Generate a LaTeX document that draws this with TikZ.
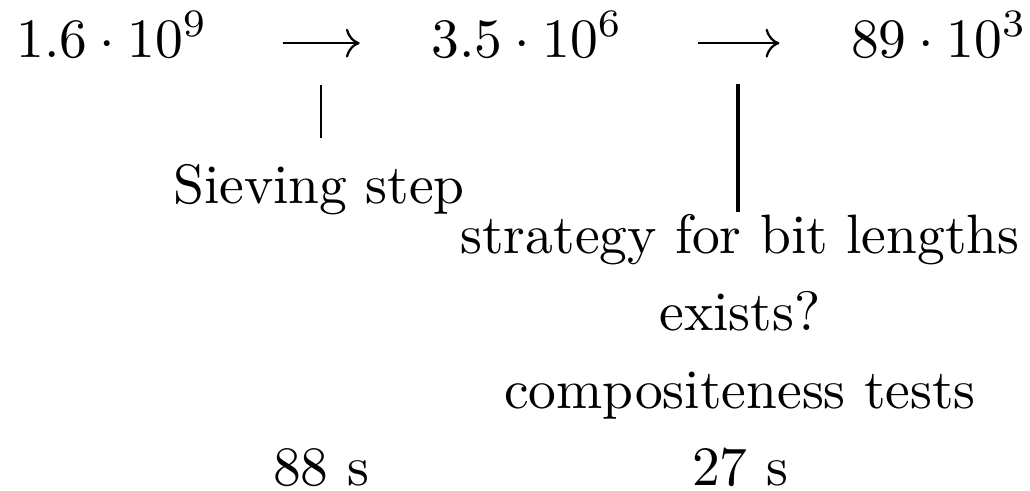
\documentclass[tikz,border=0pt]{standalone}
\usepackage{amsmath}
\usepackage{tikz}
\usetikzlibrary{arrows.meta}

\begin{document}
\begin{tikzpicture}[
  x=0.18018pt, y=-0.18018pt,
  num/.style={anchor=base, inner sep=0pt},
  lbl/.style={anchor=base},
  arr/.style={-{To}, shorten <=13.3pt, shorten >=12.7pt},
  stem/.style={line width=0.4pt}
]
  \useasboundingbox (0,0) rectangle (1030,490);

  % counts after each stage
  \node[num] (n1) at (112,57) {$1.6\cdot10^9$};
  \node[num] (n2) at (527,57) {$3.5\cdot10^6$};
  \node[num] (n3) at (939,57) {$89\cdot10^3$};

  \draw[arr] ([yshift=2.5pt]n1.base east) -- ([yshift=2.5pt]n2.base west);
  \draw[arr] ([yshift=2.5pt]n2.base east) -- ([yshift=2.5pt]n3.base west);

  % stage labels
  \node[lbl] (sieve) at (319,203) {Sieving step};
  \node[lbl] (strat) at (740,253) {strategy for bit lengths};
  \node[lbl] (exist) at (740,330.5) {exists?};
  \node[lbl] (comp)  at (740,408) {compositeness tests};

  \node[lbl] (t1) at (321,485.5) {88 s};
  \node[lbl] (t2) at (740,485.5) {27 s};

  \coordinate (a1) at (321,85);
  \coordinate (a2) at (738,84);
  \draw[stem, shorten >=1.15pt] (a1) -- (a1 |- sieve.north);
  \draw[stem, line width=0.85pt, shorten >=-3.25pt] (a2) -- (a2 |- strat.north);
\end{tikzpicture}
\end{document}
